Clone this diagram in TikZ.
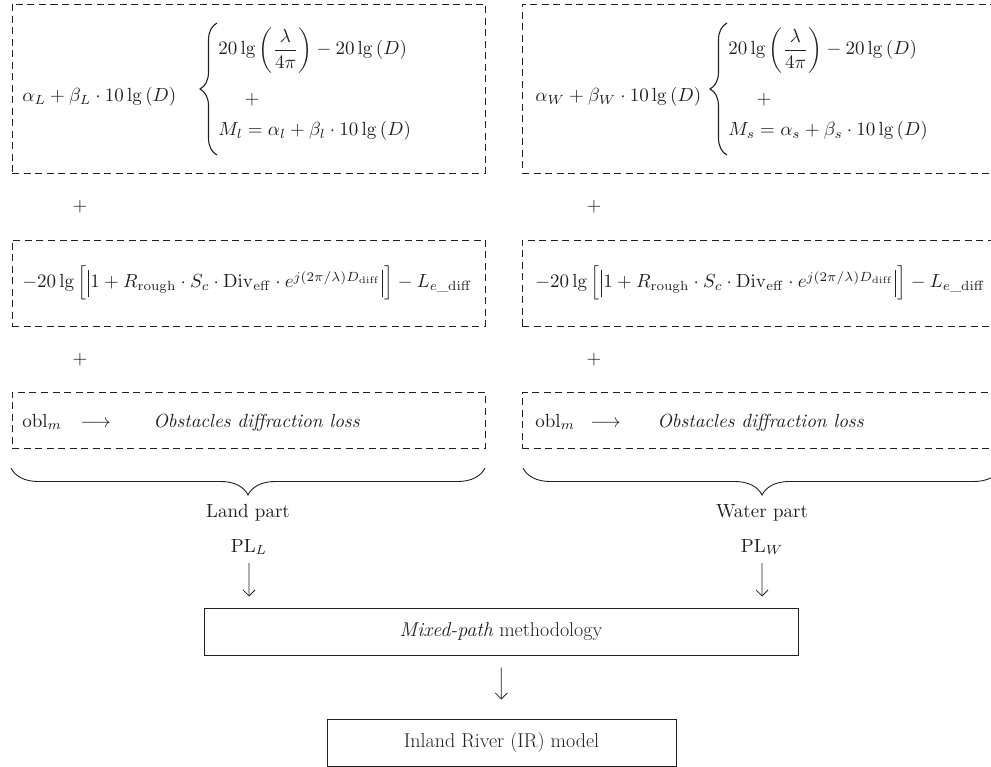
\documentclass[tikz,border=0pt]{standalone}
\usepackage{amsmath}
\usetikzlibrary{decorations.pathreplacing,arrows.meta}
\definecolor{ink}{RGB}{35,31,32}
\newcommand{\absbar}{\vrule height 9.5pt depth 4.5pt width 0.4pt}
\begin{document}
\begin{tikzpicture}[x=1pt,y=-1pt,
  every node/.style={inner sep=0pt, text=ink},
  txt/.style={scale=1.9, transform shape},
  dbox/.style={draw=ink, dash pattern=on 7pt off 4.5pt, line width=0.9pt},
  sbox/.style={draw=ink, line width=1pt, minimum height=47pt, font=\fontsize{20}{24}\selectfont},
  arr/.style={draw=ink, line width=0.8pt, -{Straight Barb[length=6pt,width=12pt]}},
  brc/.style={draw=ink, line width=0.9pt, decorate, decoration={brace, amplitude=27pt}},
  vbrc/.style={draw=ink, line width=1.1pt, decorate, decoration={brace, amplitude=17pt}}]
\useasboundingbox (0,0) rectangle (991,767);
\clip (0,0) rectangle (991,767);
% ---------- dashed boxes ----------
\node[dbox, minimum width=473pt, minimum height=169pt] (b1L) at (248.5,88.5) {};
\node[dbox, minimum width=473pt, minimum height=86pt] (b2L) at (248.5,283) {};
\node[dbox, minimum width=473pt, minimum height=56pt] (b3L) at (248.5,420) {};
\node[dbox, minimum width=475pt, minimum height=169pt] (b1R) at (759.5,88.5) {};
\node[dbox, minimum width=475pt, minimum height=86pt] (b2R) at (759.5,283) {};
\node[dbox, minimum width=475pt, minimum height=56pt] (b3R) at (759.5,420) {};
% ---------- box 1 contents ----------
\node[txt, anchor=base west] (aL) at (22,102) {$\alpha_L+\beta_L\cdot 10\lg\,(D)$};
\coordinate (vbLt) at (217,23); \coordinate (vbLb) at (217,155);
\draw[vbrc] (vbLb) -- (vbLt);
\node[txt, anchor=base west] (l1L) at (218,55) {$20\lg\left(\dfrac{\lambda}{4\pi}\right)-20\lg\,(D)$};
\node[txt] (pL) at (252,100) {$+$};
\node[txt, anchor=base west] (l3L) at (218,136) {$M_l=\alpha_l+\beta_l\cdot 10\lg\,(D)$};
\node[txt, anchor=base west] (aR) at (535,102) {$\alpha_W+\beta_W\cdot 10\lg\,(D)$};
\coordinate (vbRt) at (727,23); \coordinate (vbRb) at (727,155);
\draw[vbrc] (vbRb) -- (vbRt);
\node[txt, anchor=base west] (l1R) at (728,55) {$20\lg\left(\dfrac{\lambda}{4\pi}\right)-20\lg\,(D)$};
\node[txt] (pR) at (764,100) {$+$};
\node[txt, anchor=base west] (l3R) at (728,136) {$M_s=\alpha_s+\beta_s\cdot 10\lg\,(D)$};
% ---------- plus signs ----------
\node[txt] (p1L) at (80,207) {$+$};
\node[txt] (p2L) at (80,360) {$+$};
\node[txt] (p1R) at (594,207) {$+$};
\node[txt] (p2R) at (594,360) {$+$};
% ---------- box 2 contents ----------
\node[txt, anchor=base west] (fL) at (22,288) {$-20\lg\,\Bigl[\mathopen{\mkern1.5mu\absbar\mkern1.5mu}1+R_{\mathrm{rough}}\cdot S_c\cdot \mathrm{Div}_{\mathrm{eff}}\cdot e^{j(2\pi/\lambda)D_{\mathrm{diff}}}\mathclose{\mkern1.5mu\absbar\mkern1.5mu}\Bigr]-L_{e\_\mathrm{diff}}$};
\node[txt, anchor=base west] (fR) at (535,288) {$-20\lg\,\Bigl[\mathopen{\mkern1.5mu\absbar\mkern1.5mu}1+R_{\mathrm{rough}}\cdot S_c\cdot \mathrm{Div}_{\mathrm{eff}}\cdot e^{j(2\pi/\lambda)D_{\mathrm{diff}}}\mathclose{\mkern1.5mu\absbar\mkern1.5mu}\Bigr]-L_{e\_\mathrm{diff}}$};
% ---------- box 3 contents ----------
\node[txt, anchor=base west] (oL) at (22,427) {obl$_m$};
\node[txt, anchor=base west] (arL) at (80,427) {$\longrightarrow$};
\node[txt, anchor=base west] (tL) at (153,427) {\itshape Obstacles diffraction loss};
\node[txt, anchor=base west] (oR) at (535,427) {obl$_m$};
\node[txt, anchor=base west] (arR) at (590,427) {$\longrightarrow$};
\node[txt, anchor=base west] (tR) at (657,427) {\itshape Obstacles diffraction loss};
% ---------- braces ----------
\coordinate (bL1) at (485,468); \coordinate (bL2) at (11,468);
\coordinate (bR1) at (1001,468); \coordinate (bR2) at (523,468);
\draw[brc] (bL1) -- (bL2);
\draw[brc] (bR1) -- (bR2);
% ---------- labels ----------
\node[txt, anchor=base] (land) at (248,517) {Land part};
\node[txt, anchor=base] (pll) at (249,552) {PL$_L$};
\node[txt, anchor=base] (water) at (762,517) {Water part};
\node[txt, anchor=base] (plw) at (762,552) {PL$_W$};
% ---------- lower boxes ----------
\node[sbox, minimum width=594pt] (mixed) at (501,631.5) {\textit{Mixed-path} methodology};
\node[sbox, minimum width=349pt] (inland) at (501.5,742.5) {Inland River (IR) model};
% ---------- arrows ----------
\draw[arr, shorten <=8pt, shorten >=11pt] (pll) -- (pll |- mixed.north);
\draw[arr, shorten <=8pt, shorten >=11pt] (plw) -- (plw |- mixed.north);
\draw[arr, shorten <=12pt, shorten >=19pt] (mixed) -- (inland);
\end{tikzpicture}
\end{document}
